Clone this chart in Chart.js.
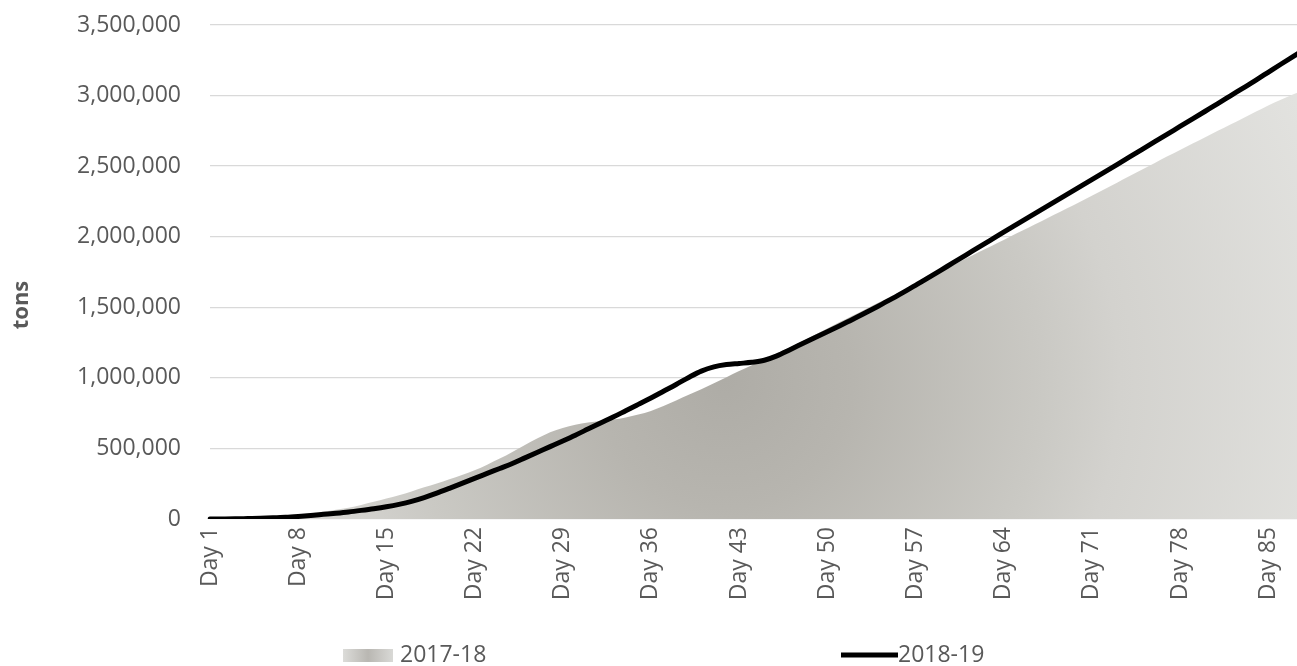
<!DOCTYPE html>
<html>
<head>
<meta charset="utf-8">
<script src="https://cdn.jsdelivr.net/npm/chart.js@4/dist/chart.umd.min.js"></script>
<style>
  html, body { margin: 0; padding: 0; background: #fff; overflow: hidden; }
  #wrap { position: relative; width: 1306px; height: 666px; }
</style>
</head>
<body>
<div id="wrap"><canvas id="mycanvas"></canvas></div>
<script>
// days on the category axis
var dayCount = 88;
var dayLabels = [];
for (var d = 1; d <= dayCount; d++) {
  dayLabels.push("Day " + d);
}

var seriesNames = ["2017-18", "2018-19"];
var yTitle = "tons";

// cumulative tons, 2017-18 season (area)
var tons2017 = [
  0, 1000, 2000, 4000, 7000, 12000, 20000, 30000, 40000, 52000,
  65000, 80000, 100000, 122000, 145000, 168000, 195000, 225000, 252000, 282000,
  312000, 345000, 385000, 428000, 475000, 525000, 572000, 615000, 645000, 668000,
  683000, 694000, 705000, 720000, 740000, 765000, 800000, 840000, 880000, 920000,
  962000, 1005000, 1048000, 1090000, 1130000, 1172000, 1215000, 1260000, 1305000, 1350000,
  1395000, 1440000, 1485000, 1530000, 1575000, 1620000, 1665000, 1710000, 1755000, 1800000,
  1845000, 1890000, 1933000, 1977000, 2022000, 2066000, 2110000, 2155000, 2200000, 2245000,
  2290000, 2337000, 2383000, 2430000, 2477000, 2523000, 2570000, 2615000, 2660000, 2705000,
  2750000, 2795000, 2840000, 2885000, 2930000, 2970000, 3010000, 3045000
];

// cumulative tons, 2018-19 season (line)
var tons2018 = [
  0, 0, 1000, 3000, 5000, 8000, 12000, 18000, 25000, 33000,
  41000, 50000, 61000, 73000, 87000, 104000, 125000, 152000, 183000, 217000,
  252000, 288000, 323000, 358000, 393000, 433000, 473000, 513000, 553000, 594000,
  637000, 680000, 722000, 767000, 812000, 857000, 905000, 953000, 1003000, 1048000,
  1078000, 1094000, 1102000, 1110000, 1125000, 1156000, 1198000, 1241000, 1284000, 1326000,
  1369000, 1413000, 1459000, 1506000, 1554000, 1604000, 1655000, 1708000, 1762000, 1816000,
  1870000, 1924000, 1978000, 2033000, 2086000, 2139000, 2192000, 2245000, 2298000, 2351000,
  2404000, 2457000, 2511000, 2565000, 2619000, 2673000, 2727000, 2781000, 2835000, 2889000,
  2943000, 2998000, 3053000, 3108000, 3165000, 3222000, 3278000, 3333000
];

var yMax = 3500000;
var yStep = 500000;

var textColor = '#595959';
var fontFamily = '"Open Sans", "Noto Sans", sans-serif';

function areaFill(context) {
  var chart = context.chart;
  var area = chart.chartArea;
  if (!area) return '#c6c5c0';
  var w = area.right - area.left;
  var cx = area.left + w * 0.47;
  var cy = area.top + (area.bottom - area.top) * 0.72;
  var g = chart.ctx.createRadialGradient(cx, cy, 0, cx, cy, w * 0.58);
  g.addColorStop(0, '#aeaca6');
  g.addColorStop(0.2, '#b7b5af');
  g.addColorStop(0.5, '#cac9c4');
  g.addColorStop(0.62, '#d3d2ce');
  g.addColorStop(1, '#e2e2df');
  return g;
}

// legend under the plot (two items spread apart) and the y title
var extras = {
  id: 'extras',
  afterDraw: function(chart) {
    var ctx = chart.ctx;
    var y = 655;
    ctx.save();
    var g = ctx.createLinearGradient(343, 0, 393, 0);
    g.addColorStop(0, '#dcdcd9');
    g.addColorStop(0.5, '#b9b7b2');
    g.addColorStop(1, '#d9d9d6');
    ctx.fillStyle = g;
    ctx.fillRect(343, 649, 50, 13);
    ctx.strokeStyle = '#000';
    ctx.lineWidth = 5;
    ctx.beginPath();
    ctx.moveTo(841, y);
    ctx.lineTo(898, y);
    ctx.stroke();
    ctx.font = '23px ' + fontFamily;
    ctx.fillStyle = textColor;
    ctx.textBaseline = 'middle';
    ctx.textAlign = 'left';
    ctx.fillText(seriesNames[0], 400, y);
    ctx.fillText(seriesNames[1], 898, y);

    ctx.translate(22, 305);
    ctx.rotate(-Math.PI / 2);
    ctx.textAlign = 'center';
    ctx.font = 'bold 22px ' + fontFamily;
    ctx.fillText(yTitle, 0, 0);
    ctx.restore();
  }
};

var ctx = document.getElementById('mycanvas');
new Chart(ctx, {
  type: 'line',
  data: {
    labels: dayLabels,
    datasets: [
      {
        label: seriesNames[0],
        data: tons2017,
        fill: 'origin',
        backgroundColor: areaFill,
        borderWidth: 0,
        borderColor: 'rgba(0,0,0,0)',
        pointRadius: 0,
        cubicInterpolationMode: 'monotone',
        order: 2
      },
      {
        label: seriesNames[1],
        data: tons2018,
        fill: false,
        borderColor: '#000000',
        borderWidth: 5,
        pointRadius: 0,
        cubicInterpolationMode: 'monotone',
        borderCapStyle: 'round',
        order: 1
      }
    ]
  },
  options: {
    responsive: true,
    maintainAspectRatio: false,
    animation: false,
    layout: { padding: { left: 0, right: 0, top: 25, bottom: 40 } },
    plugins: {
      legend: { display: false },
      tooltip: { enabled: false }
    },
    scales: {
      x: {
        grid: { display: false, drawTicks: false },
        border: { display: false },
        ticks: {
          autoSkip: false,
          minRotation: 90,
          maxRotation: 90,
          padding: 8,
          color: textColor,
          font: { family: fontFamily, size: 23 },
          callback: function(value, index) {
            return index % 7 === 0 ? this.getLabelForValue(value) : null;
          }
        },
        afterFit: function(scale) {
          scale.height = 107;
          scale.paddingLeft = 0;
          scale.paddingRight = 0;
          scale.paddingTop = 0;
          scale.paddingBottom = 0;
        }
      },
      y: {
        min: 0,
        max: yMax,
        grid: { color: '#d9d9d9', lineWidth: 1.3, drawTicks: false },
        border: { display: false },
        ticks: {
          stepSize: yStep,
          padding: 29,
          color: textColor,
          font: { family: fontFamily, size: 23 },
          callback: function(value) { return value.toLocaleString('en-US'); }
        },
        afterFit: function(scale) {
          scale.width = 210;
          scale.paddingTop = 0;
          scale.paddingBottom = 0;
        }
      }
    }
  },
  plugins: [extras]
});
</script>
</body>
</html>
